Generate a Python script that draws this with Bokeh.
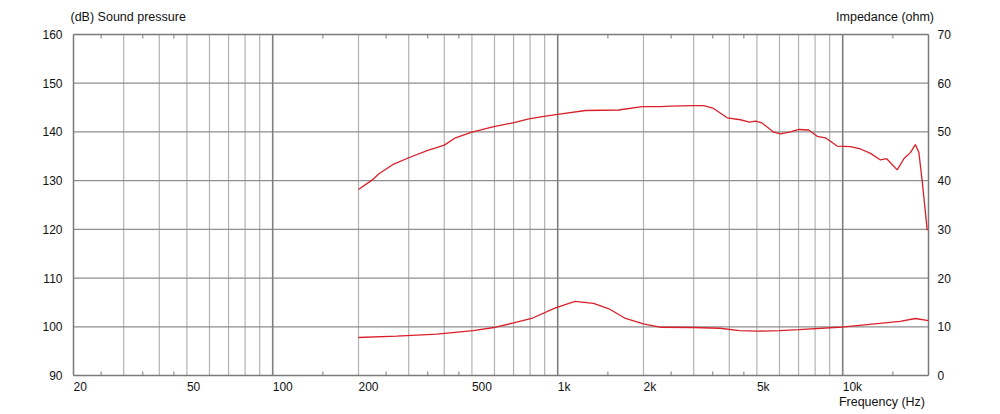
from bokeh.plotting import figure
from bokeh.models import (Range1d, LinearAxis, FixedTicker, Label, Title)
from bokeh.embed import file_html
from bokeh.resources import INLINE

# ---- data ----
spl_freq = [200, 223, 236, 266, 300, 350, 400, 438, 500, 597, 702, 792, 894, 1000,
            1252, 1637, 1978, 2294, 2500, 2965, 3255, 3500, 3934, 4377, 4700, 4945,
            5210, 5730, 6050, 6559, 7015, 7605, 8140, 8702, 9560, 10640, 11545,
            12520, 13570, 14270, 15530, 16390, 17300, 17990, 18500, 19000, 19800]
spl_db = [128.2, 130.1, 131.4, 133.4, 134.7, 136.2, 137.3, 138.8, 139.95, 141.1,
          141.9, 142.7, 143.2, 143.6, 144.4, 144.5, 145.2, 145.2, 145.3, 145.4,
          145.4, 144.9, 142.9, 142.5, 142.0, 142.2, 141.85, 139.95, 139.6, 140.0,
          140.5, 140.4, 139.1, 138.8, 137.1, 137.0, 136.5, 135.6, 134.25, 134.5,
          132.2, 134.5, 135.8, 137.4, 135.8, 130.0, 119.8]

imp_freq = [200, 272, 377, 505, 598, 700, 817, 982, 1150, 1336, 1513, 1717, 2000,
            2303, 3000, 3711, 4338, 5000, 6000, 7000, 9700, 12430, 15900, 17980, 20000]
imp_ohm = [7.8, 8.1, 8.5, 9.2, 9.85, 10.8, 11.8, 13.9, 15.2, 14.8, 13.7, 11.8, 10.6,
           9.9, 9.85, 9.7, 9.2, 9.1, 9.2, 9.4, 9.9, 10.5, 11.1, 11.7, 11.25]

x_label_vals = [20, 50, 100, 200, 500, 1000, 2000, 5000, 10000, 20000]
x_label_text = ["20", "50", "100", "200", "500", "1k", "2k", "5k", "10k", "20k"]
grid_freqs = [30, 40, 50, 60, 70, 80, 90, 200, 300, 400, 500, 600, 700, 800, 900,
              2000, 3000, 4000, 5000, 6000, 7000, 8000, 9000]
decade_freqs = [100, 1000, 10000]
small_ticks = [25, 35, 45, 150, 250, 350, 450, 1500, 2500, 3500, 4500, 15000]
spl_ticks = [90, 100, 110, 120, 130, 140, 150, 160]
imp_ticks = [0, 10, 20, 30, 40, 50, 60, 70]

FONT = "Liberation Sans"
TXT = "#111111"
RED = "#d9202a"
BORDER = "#7a7a7a"

# ---- layout geometry (pixels) ----
F_MIN, F_MAX = x_label_vals[0], x_label_vals[-1]
Y_MIN, Y_MAX = spl_ticks[0], spl_ticks[-1]
I_MIN, I_MAX = imp_ticks[0], imp_ticks[-1]
PLOT_W, PLOT_H = 855, 341          # visible plot box
EXT_L, EXT_R, EXT_T, EXT_B = 3, 9, 34, 2   # frame extension around plot box
PX_DEC = PLOT_W / 3.0
PPU = PLOT_H / (Y_MAX - Y_MIN)

x_rng = Range1d(F_MIN * 10 ** (-EXT_L / PX_DEC), F_MAX * 10 ** (EXT_R / PX_DEC))
y_rng = Range1d(Y_MIN - EXT_B / PPU, Y_MAX + EXT_T / PPU)
imp_rng = Range1d(I_MIN - EXT_B / PPU, I_MAX + EXT_T / PPU)

p = figure(x_axis_type="log", x_range=x_rng, y_range=y_rng,
           frame_width=PLOT_W + EXT_L + EXT_R, frame_height=PLOT_H + EXT_T + EXT_B,
           min_border_left=70, min_border_right=63, min_border_top=0, min_border_bottom=37,
           output_backend="svg", toolbar_location=None, background_fill_color="white",
           border_fill_color="white")
p.outline_line_color = None
p.extra_y_ranges = {"imp": imp_rng}
p.xgrid.visible = False
p.ygrid.visible = False

# bottom axis: labels only, left-aligned at grid lines (centre shifted by half text width)
def text_w(s):
    return sum(6.0 if c == "k" else 6.674 for c in s)

centers = [f * 10 ** (text_w(t) / 2 / PX_DEC) for f, t in zip(x_label_vals, x_label_text)]
xa = p.xaxis[0]
xa.ticker = FixedTicker(ticks=centers, minor_ticks=[])
xa.major_label_overrides = {c: t for c, t in zip(centers, x_label_text)}
xa.major_tick_in = 0
xa.major_tick_out = 0
xa.minor_tick_in = 0
xa.minor_tick_out = 0
xa.axis_line_color = None
xa.major_label_standoff = 2
xa.major_label_text_font = FONT
xa.major_label_text_font_size = "12px"
xa.major_label_text_color = TXT

# left axis
ya = p.yaxis[0]
ya.ticker = FixedTicker(ticks=spl_ticks)
ya.major_tick_in = 0
ya.major_tick_out = 0
ya.minor_tick_in = 0
ya.minor_tick_out = 0
ya.major_label_standoff = 8
ya.major_label_text_font = FONT
ya.major_label_text_font_size = "12px"
ya.major_label_text_color = TXT
ya.axis_line_color = None

# right axis
ra = LinearAxis(y_range_name="imp", ticker=FixedTicker(ticks=imp_ticks),
                major_tick_in=0, major_tick_out=0, minor_tick_in=0, minor_tick_out=0,
                major_label_standoff=0, major_label_text_font=FONT,
                major_label_text_font_size="12px", major_label_text_color=TXT,
                axis_line_color=None)
p.add_layout(ra, "right")

# grid lines, limited to the plot box
n = len(grid_freqs)
p.segment(x0=grid_freqs, y0=[Y_MIN] * n, x1=grid_freqs, y1=[Y_MAX] * n,
          line_color="#b2b2b2", line_width=1.2)
h = spl_ticks[1:-1]
p.segment(x0=[F_MIN] * len(h), y0=h, x1=[F_MAX] * len(h), y1=h,
          line_color="#8e8e8e", line_width=1.3)
d = decade_freqs
p.segment(x0=d, y0=[Y_MIN] * len(d), x1=d, y1=[Y_MAX] * len(d),
          line_color="#7e7e7e", line_width=1.6)
# plot box border
p.segment(x0=[F_MIN, F_MAX, F_MIN, F_MIN], y0=[Y_MIN, Y_MIN, Y_MIN, Y_MAX],
          x1=[F_MIN, F_MAX, F_MAX, F_MAX], y1=[Y_MAX, Y_MAX, Y_MIN, Y_MAX],
          line_color=BORDER, line_width=1.5)
# small inward ticks at top and bottom
TICK = 4 / PPU
m = len(small_ticks)
p.segment(x0=small_ticks, y0=[Y_MAX] * m, x1=small_ticks, y1=[Y_MAX - TICK] * m,
          line_color=BORDER, line_width=1)
p.segment(x0=small_ticks, y0=[Y_MIN] * m, x1=small_ticks, y1=[Y_MIN + TICK] * m,
          line_color=BORDER, line_width=1)

# curves
p.line(spl_freq, spl_db, line_color=RED, line_width=1.3)
p.line(imp_freq, imp_ohm, line_color=RED, line_width=1.3, y_range_name="imp")

# axis titles
p.add_layout(Label(x=F_MIN, y=Y_MAX, text="(dB)  Sound pressure", x_offset=-3, y_offset=18,
                   text_align="left", text_baseline="middle", text_font=FONT,
                   text_font_size="12.5px", text_color=TXT))
p.add_layout(Label(x=F_MAX, y=Y_MAX, text="Impedance  (ohm)", x_offset=9, y_offset=18,
                   text_align="right", text_baseline="middle", text_font=FONT,
                   text_font_size="12.5px", text_color=TXT))
p.add_layout(Title(text="Frequency  (Hz)", align="right", offset=9, standoff=-4,
                   vertical_align="top", text_font=FONT, text_font_size="12.5px",
                   text_font_style="normal", text_color=TXT), "below")

open("out.html", "w").write(file_html(p, INLINE))
